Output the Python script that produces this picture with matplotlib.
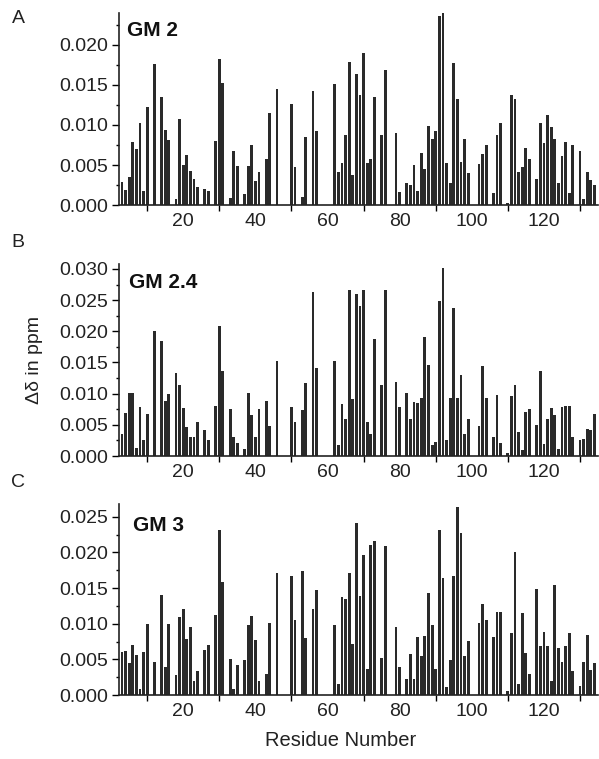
import matplotlib
matplotlib.use('Agg')
import matplotlib.pyplot as plt
from matplotlib.ticker import MultipleLocator, FixedLocator, FormatStrFormatter

plt.rcParams['font.family'] = ['Liberation Sans', 'DejaVu Sans']

# residues with an assigned shift (same set in all three panels)
residues = [3, 4, 5, 6, 7, 8, 9, 10,
            12,
            14, 15, 16,
            18, 19, 20, 21, 22, 23, 24,
            26, 27,
            29, 30, 31,
            33, 34, 35,
            37, 38, 39, 40, 41,
            43, 44,
            46,
            50, 51,
            53, 54,
            56, 57,
            62, 63, 64, 65, 66, 67, 68, 69, 70, 71, 72, 73,
            75, 76,
            79, 80,
            82, 83, 84, 85, 86, 87, 88, 89, 90, 91, 92, 93, 94, 95, 96, 97, 98, 99,
            102, 103, 104,
            106, 107, 108,
            110, 111, 112, 113, 114, 115, 116,
            118, 119, 120, 121, 122, 123, 124, 125, 126, 127, 128,
            130, 131, 132, 133, 134]

gm2 = [0.0029, 0.0019, 0.0035, 0.0079, 0.0070, 0.0102, 0.0018, 0.0122,
       0.0176,
       0.0135, 0.0094, 0.0081,
       0.0007, 0.0108, 0.0050, 0.0062, 0.0042, 0.0033, 0.0022,
       0.0020, 0.0018,
       0.0080, 0.0183, 0.0153,
       0.0009, 0.0067, 0.0049,
       0.0014, 0.0049, 0.0075, 0.0030, 0.0041,
       0.0058, 0.0115,
       0.0145,
       0.0126, 0.0048,
       0.0010, 0.0085,
       0.0143, 0.0093,
       0.0151, 0.0041, 0.0053, 0.0088, 0.0179, 0.0037, 0.0164, 0.0138, 0.0190, 0.0053, 0.0057, 0.0135,
       0.0087, 0.0169,
       0.0090, 0.0016,
       0.0028, 0.0025, 0.0050, 0.0018, 0.0065, 0.0045, 0.0099, 0.0083, 0.0093, 0.0236, 0.0240, 0.0053, 0.0027, 0.0178, 0.0132, 0.0054, 0.0082, 0.0040,
       0.0051, 0.0064, 0.0075,
       0.0015, 0.0088, 0.0103,
       0.0003, 0.0137, 0.0132, 0.0041, 0.0047, 0.0071, 0.0058,
       0.0032, 0.0103, 0.0078, 0.0112, 0.0098, 0.0082, 0.0028, 0.0061, 0.0079, 0.0015, 0.0075,
       0.0067, 0.0007, 0.0041, 0.0031, 0.0025]

gm24 = [0.0035, 0.0069, 0.0101, 0.0101, 0.0013, 0.0078, 0.0026, 0.0067,
        0.0201,
        0.0185, 0.0089, 0.0100,
        0.0133, 0.0114, 0.0077, 0.0046, 0.0031, 0.0031, 0.0054,
        0.0041, 0.0025,
        0.0080, 0.0209, 0.0136,
        0.0075, 0.0030, 0.0021,
        0.0011, 0.0101, 0.0066, 0.0030, 0.0075,
        0.0088, 0.0048,
        0.0152,
        0.0079, 0.0055,
        0.0073, 0.0117,
        0.0263, 0.0141,
        0.0153, 0.0018, 0.0084, 0.0059, 0.0266, 0.0091, 0.0260, 0.0241, 0.0266, 0.0055, 0.0036, 0.0188,
        0.0114, 0.0267,
        0.0118, 0.0079,
        0.0101, 0.0059, 0.0086, 0.0085, 0.0093, 0.0191, 0.0146, 0.0018, 0.0023, 0.0248, 0.0302, 0.0026, 0.0093, 0.0237, 0.0093, 0.0130, 0.0036, 0.0060,
        0.0048, 0.0144, 0.0093,
        0.0031, 0.0098, 0.0021,
        0.0005, 0.0096, 0.0114, 0.0039, 0.0010, 0.0070, 0.0075,
        0.0050, 0.0137, 0.0019, 0.0059, 0.0077, 0.0066, 0.0012, 0.0079, 0.0081, 0.0081, 0.0031,
        0.0026, 0.0027, 0.0043, 0.0041, 0.0068]

gm3 = [0.0061, 0.0062, 0.0045, 0.0070, 0.0056, 0.0009, 0.0061, 0.0100,
       0.0047,
       0.0141, 0.0040, 0.0099,
       0.0028, 0.0110, 0.0121, 0.0079, 0.0095, 0.0019, 0.0033,
       0.0063, 0.0070,
       0.0112, 0.0231, 0.0158,
       0.0050, 0.0008, 0.0042,
       0.0049, 0.0098, 0.0111, 0.0077, 0.0019,
       0.0030, 0.0101,
       0.0171,
       0.0167, 0.0105,
       0.0174, 0.0080,
       0.0121, 0.0148,
       0.0098, 0.0015, 0.0138, 0.0135, 0.0171, 0.0072, 0.0241, 0.0139, 0.0197, 0.0036, 0.0210, 0.0216,
       0.0052, 0.0209,
       0.0095, 0.0040,
       0.0023, 0.0058, 0.0022, 0.0082, 0.0055, 0.0083, 0.0143, 0.0098, 0.0036, 0.0232, 0.0164, 0.0011, 0.0049, 0.0167, 0.0264, 0.0227, 0.0055, 0.0076,
       0.0101, 0.0128, 0.0105,
       0.0081, 0.0116, 0.0116,
       0.0005, 0.0087, 0.0201, 0.0015, 0.0115, 0.0059, 0.0030,
       0.0149, 0.0069, 0.0088, 0.0069, 0.0019, 0.0154, 0.0066, 0.0047, 0.0069, 0.0087, 0.0034,
       0.0012, 0.0047, 0.0084, 0.0035, 0.0045]

panels = [
    ('A', 'GM 2', gm2, 0.0240, [0.1987, 0.7299, 0.7997, 0.2530], (0.017, 0.911)),
    ('B', 'GM 2.4', gm24, 0.0308, [0.1987, 0.3992, 0.7997, 0.2530], (0.021, 0.906)),
    ('C', 'GM 3', gm3, 0.0268, [0.1987, 0.0843, 0.7997, 0.2517], (0.029, 0.885)),
]
letter_y = [0.976, 0.680, 0.364]

fig = plt.figure(figsize=(5.99, 7.59), dpi=100)

for (letter, name, vals, ytop, pos, gm_xy), ly in zip(panels, letter_y):
    ax = fig.add_axes(pos)
    ax.bar(residues, vals, width=0.78, color='#2a2a2a', linewidth=0)
    ax.set_xlim(2.2, 135)
    ax.set_ylim(0, ytop)
    for s in ['top', 'right']:
        ax.spines[s].set_visible(False)
    for s in ['left', 'bottom']:
        ax.spines[s].set_linewidth(1.2)
        ax.spines[s].set_color('#222222')
    ax.xaxis.set_major_locator(FixedLocator([20, 40, 60, 80, 100, 120]))
    ax.xaxis.set_minor_locator(FixedLocator([10, 30, 50, 70, 90, 110, 130]))
    ax.yaxis.set_major_locator(MultipleLocator(0.005))
    ax.yaxis.set_minor_locator(MultipleLocator(0.0025))
    ax.yaxis.set_major_formatter(FormatStrFormatter('%.3f'))
    ax.tick_params(axis='x', which='major', length=0, pad=6, labelsize=14, labelcolor='#222222')
    ax.tick_params(axis='x', which='minor', length=4, width=1, direction='out')
    ax.tick_params(axis='y', which='major', length=5, width=1, pad=3, labelsize=14, labelcolor='#222222')
    ax.tick_params(axis='y', which='minor', length=2, width=1)
    ax.text(gm_xy[0], gm_xy[1], name, transform=ax.transAxes, fontsize=15,
            fontweight='bold', ha='left', va='center', color='#111111')
    fig.text(0.030, ly, letter, fontsize=14, ha='center', va='center', color='#222222')

fig.text(0.058, 0.5257, 'Δδ in ppm', rotation=90, fontsize=14, ha='center', va='center', color='#222222')
fig.text(0.568, 0.025, 'Residue Number', fontsize=14.5, ha='center', va='center', color='#222222')

fig.savefig('out.png', dpi=100)
